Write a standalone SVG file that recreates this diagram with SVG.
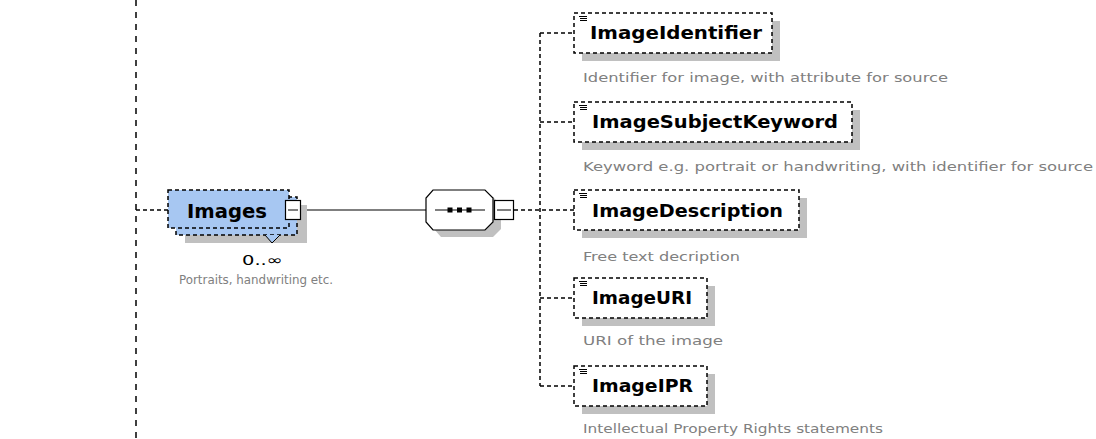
<svg xmlns="http://www.w3.org/2000/svg" width="1096" height="439" viewBox="0 0 1096 439">
<style>
.bg{fill:#ffffff}
.dash{fill:none;stroke:#000;stroke-width:1.5;stroke-dasharray:4 3}
.vdash{fill:none;stroke:#000;stroke-width:1.5;stroke-dasharray:6 6}
.solid{fill:none;stroke:#000;stroke-width:1.2}
.shadow{fill:#c0c0c0}
.box{fill:#ffffff;stroke:#000;stroke-width:1.5;stroke-dasharray:4 3}
.name{font-family:"DejaVu Sans",sans-serif;font-weight:bold;font-size:17px;fill:#000}
.desc{font-family:"DejaVu Sans",sans-serif;font-size:13px;fill:#808080}
.occ{font-family:"DejaVu Sans",sans-serif;font-size:14px;fill:#000}
.icon{stroke:#000;stroke-width:1}
</style>
<rect class="bg" x="0" y="0" width="1096" height="439"/>

<g id="connectors">
  <line class="vdash" x1="136" y1="0" x2="136" y2="439"/>
  <line class="dash" x1="136" y1="210" x2="168" y2="210"/>
  <line class="solid" x1="300" y1="210" x2="426" y2="210"/>
  <line class="dash" x1="514" y1="210" x2="574" y2="210"/>
  <line class="dash" x1="540" y1="33" x2="540" y2="386"/>
  <line class="dash" x1="540" y1="33" x2="574" y2="33"/>
  <line class="dash" x1="540" y1="122" x2="574" y2="122"/>
  <line class="dash" x1="540" y1="298" x2="574" y2="298"/>
  <line class="dash" x1="540" y1="386" x2="574" y2="386"/>
</g>

<g id="Images">
  <rect class="shadow" x="185" y="205" width="122" height="38"/>
  <rect x="176" y="197" width="121" height="38" fill="#a7c7f2" stroke="#000" stroke-width="1.5" stroke-dasharray="4 3"/>
  <rect x="168" y="190" width="121" height="38" fill="#a7c7f2" stroke="#000" stroke-width="1.5" stroke-dasharray="4 3"/>
  <polyline points="265,235 272,243 280,235" fill="#a7c7f2" stroke="#000" stroke-width="1"/>
  <text x="187" y="218" font-family="'DejaVu Sans',sans-serif" font-weight="bold" font-size="20" textLength="80" lengthAdjust="spacingAndGlyphs">Images</text>
  <rect x="285.5" y="200.5" width="15" height="19" fill="#fff" stroke="#000" stroke-width="1.2"/>
  <line class="icon" x1="288" y1="210" x2="298" y2="210"/>
  <text class="occ" x="242" y="265" textLength="41" lengthAdjust="spacingAndGlyphs">0..∞</text>
  <text class="desc" x="179" y="284" textLength="154" lengthAdjust="spacingAndGlyphs">Portraits, handwriting etc.</text>
</g>

<g id="sequence">
  <polygon class="shadow" points="441,197 493,197 501,205 501,229 493,237 441,237 434,229 434,205"/>
  <polygon points="433,190 485,190 493,198 493,222 485,230 433,230 426,222 426,198" fill="#fff" stroke="#000" stroke-width="1.2"/>
  <line class="icon" x1="435" y1="210" x2="485" y2="210"/>
  <rect x="447.5" y="207.5" width="5" height="5" fill="#000"/>
  <rect x="457" y="207.5" width="5" height="5" fill="#000"/>
  <rect x="466.5" y="207.5" width="5" height="5" fill="#000"/>
  <rect x="494.5" y="200.5" width="19" height="19" fill="#fff" stroke="#000" stroke-width="1.2"/>
  <line class="icon" x1="497" y1="210" x2="511" y2="210"/>
</g>

<g id="ImageIdentifier">
  <rect class="shadow" x="582" y="21" width="198" height="40"/>
  <rect class="box" x="574" y="13" width="198" height="40"/>
  <path class="icon" d="M579,16.5h8M580,18.5h7M580,20.5h7"/>
  <text class="name" x="590" y="39" textLength="172" lengthAdjust="spacingAndGlyphs">ImageIdentifier</text>
  <text class="desc" x="583" y="82" textLength="365" lengthAdjust="spacingAndGlyphs">Identifier for image, with attribute for source</text>
</g>

<g id="ImageSubjectKeyword">
  <rect class="shadow" x="582" y="110" width="278" height="40"/>
  <rect class="box" x="574" y="102" width="278" height="40"/>
  <path class="icon" d="M579,105.5h8M580,107.5h7M580,109.5h7"/>
  <text class="name" x="592" y="128" textLength="246" lengthAdjust="spacingAndGlyphs">ImageSubjectKeyword</text>
  <text class="desc" x="583" y="171" textLength="510" lengthAdjust="spacingAndGlyphs">Keyword e.g. portrait or handwriting, with identifier for source</text>
</g>

<g id="ImageDescription">
  <rect class="shadow" x="582" y="198" width="225" height="40"/>
  <rect class="box" x="574" y="190" width="225" height="40"/>
  <path class="icon" d="M579,193.5h8M580,195.5h7M580,197.5h7"/>
  <text class="name" x="592" y="217" textLength="191" lengthAdjust="spacingAndGlyphs">ImageDescription</text>
  <text class="desc" x="583" y="261" textLength="157" lengthAdjust="spacingAndGlyphs">Free text decription</text>
</g>

<g id="ImageURI">
  <rect class="shadow" x="582" y="286" width="133" height="40"/>
  <rect class="box" x="574" y="278" width="133" height="40"/>
  <path class="icon" d="M579,281.5h8M580,283.5h7M580,285.5h7"/>
  <text class="name" x="592" y="304" textLength="100" lengthAdjust="spacingAndGlyphs">ImageURI</text>
  <text class="desc" x="583" y="345" textLength="140" lengthAdjust="spacingAndGlyphs">URI of the image</text>
</g>

<g id="ImageIPR">
  <rect class="shadow" x="582" y="374" width="133" height="40"/>
  <rect class="box" x="574" y="366" width="133" height="40"/>
  <path class="icon" d="M579,369.5h8M580,371.5h7M580,373.5h7"/>
  <text class="name" x="592" y="392" textLength="101" lengthAdjust="spacingAndGlyphs">ImageIPR</text>
  <text class="desc" x="583" y="433" textLength="300" lengthAdjust="spacingAndGlyphs">Intellectual Property Rights statements</text>
</g>
</svg>
